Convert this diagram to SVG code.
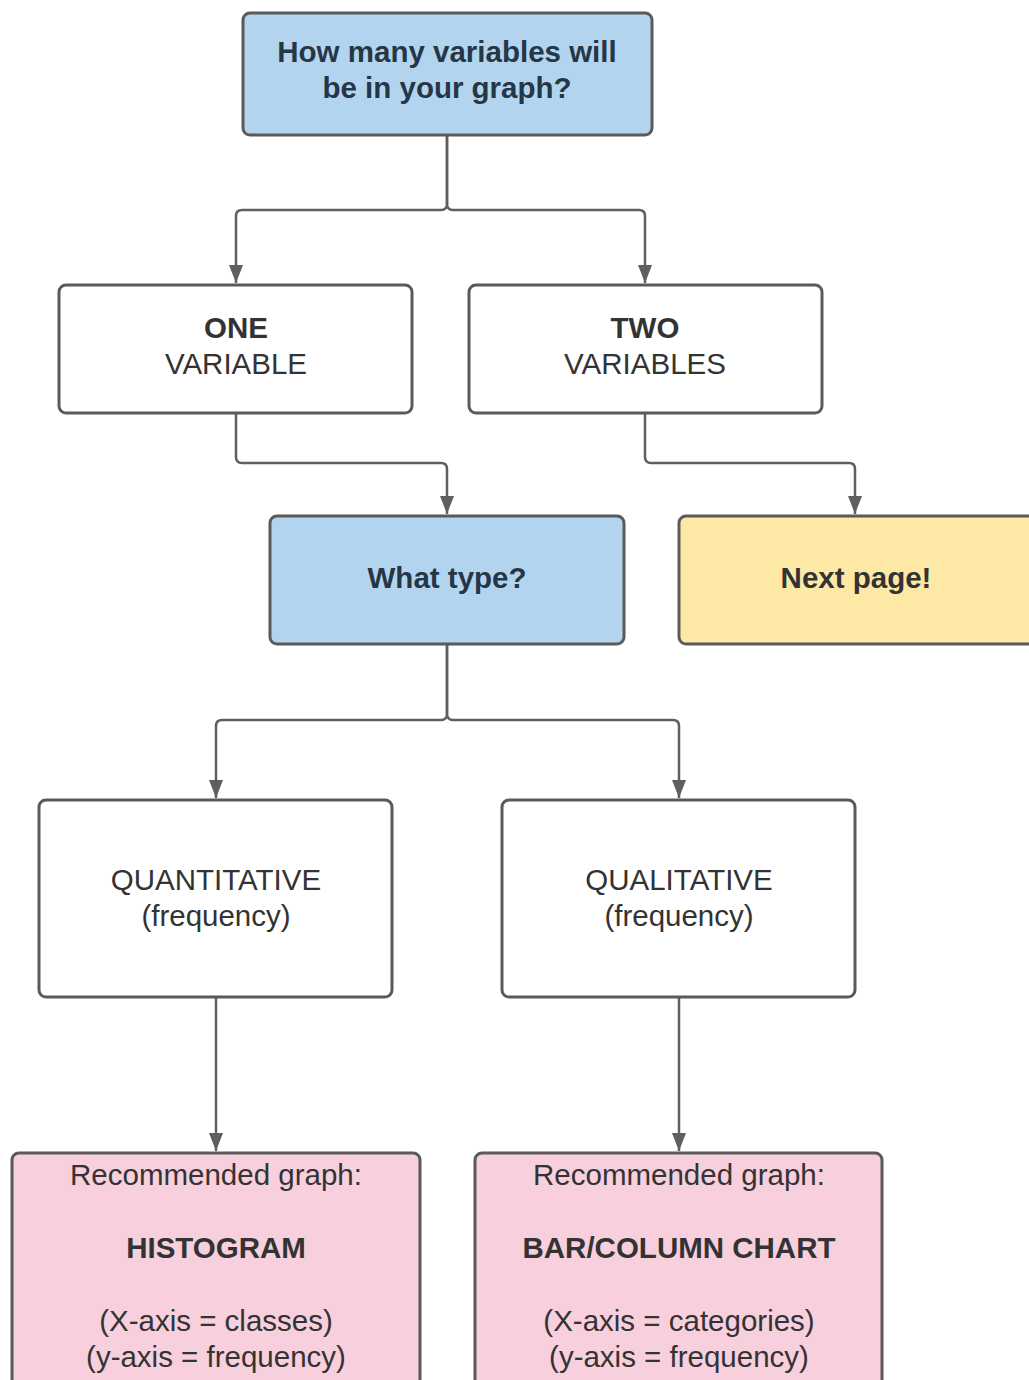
<svg xmlns="http://www.w3.org/2000/svg" width="1029" height="1380" viewBox="0 0 1029 1380">
<style>
.box{stroke:#5a5a5a;stroke-width:3}
.blue{fill:#b3d4ef}
.white{fill:#ffffff}
.yellow{fill:#fde9a5}
.pink{fill:#f8cfdc}
text{font-family:"Liberation Sans",Arial,sans-serif;font-size:29.5px;fill:#333333;text-anchor:middle}
.b{font-weight:bold}
.dk{fill:#253746}
.conn path{fill:none;stroke:#5f5f5f;stroke-width:2.5}
</style>
<defs>
<marker id="ah" markerWidth="18" markerHeight="16" refX="18" refY="7" orient="auto" markerUnits="userSpaceOnUse">
<path d="M0,0 L18,7 L0,14 Z" fill="#5f5f5f"/>
</marker>
</defs>
<rect width="1029" height="1380" fill="#ffffff"/>
<g class="conn">
<path d="M447,135 V204 Q447,210 441,210 H242 Q236,210 236,216 V283" marker-end="url(#ah)"/>
<path d="M447,135 V204 Q447,210 453,210 H639 Q645,210 645,216 V283" marker-end="url(#ah)"/>
<path d="M236,413 V457 Q236,463 242,463 H441 Q447,463 447,469 V514" marker-end="url(#ah)"/>
<path d="M645,413 V457 Q645,463 651,463 H849 Q855,463 855,469 V514" marker-end="url(#ah)"/>
<path d="M447,644 V714 Q447,720 441,720 H222 Q216,720 216,726 V798" marker-end="url(#ah)"/>
<path d="M447,644 V714 Q447,720 453,720 H673 Q679,720 679,726 V798" marker-end="url(#ah)"/>
<path d="M216,997 V1151" marker-end="url(#ah)"/>
<path d="M679,997 V1151" marker-end="url(#ah)"/>
</g>
<g id="n-start">
<rect class="box blue" x="243" y="13" width="409" height="122" rx="7"/>
<text class="b dk" x="447" y="62">How many variables will</text>
<text class="b dk" x="447" y="98">be in your graph?</text>
</g>
<g id="n-one">
<rect class="box white" x="59" y="285" width="353" height="128" rx="7"/>
<text class="b" x="236" y="338">ONE</text>
<text x="236" y="374">VARIABLE</text>
</g>
<g id="n-two">
<rect class="box white" x="469" y="285" width="353" height="128" rx="7"/>
<text class="b" x="645" y="338">TWO</text>
<text x="645" y="374">VARIABLES</text>
</g>
<g id="n-type">
<rect class="box blue" x="270" y="516" width="354" height="128" rx="7"/>
<text class="b dk" x="447" y="588">What type?</text>
</g>
<g id="n-next">
<rect class="box yellow" x="679" y="516" width="360" height="128" rx="7"/>
<text class="b" x="856" y="588">Next page!</text>
</g>
<g id="n-quant">
<rect class="box white" x="39" y="800" width="353" height="197" rx="7"/>
<text x="216" y="890">QUANTITATIVE</text>
<text x="216" y="926">(frequency)</text>
</g>
<g id="n-qual">
<rect class="box white" x="502" y="800" width="353" height="197" rx="7"/>
<text x="679" y="890">QUALITATIVE</text>
<text x="679" y="926">(frequency)</text>
</g>
<g id="n-hist">
<rect class="box pink" x="12" y="1153" width="408" height="240" rx="7"/>
<text x="216" y="1185">Recommended graph:</text>
<text class="b" x="216" y="1258">HISTOGRAM</text>
<text x="216" y="1331">(X-axis = classes)</text>
<text x="216" y="1367">(y-axis = frequency)</text>
</g>
<g id="n-bar">
<rect class="box pink" x="475" y="1153" width="407" height="240" rx="7"/>
<text x="679" y="1185">Recommended graph:</text>
<text class="b" x="679" y="1258">BAR/COLUMN CHART</text>
<text x="679" y="1331">(X-axis = categories)</text>
<text x="679" y="1367">(y-axis = frequency)</text>
</g>
</svg>
